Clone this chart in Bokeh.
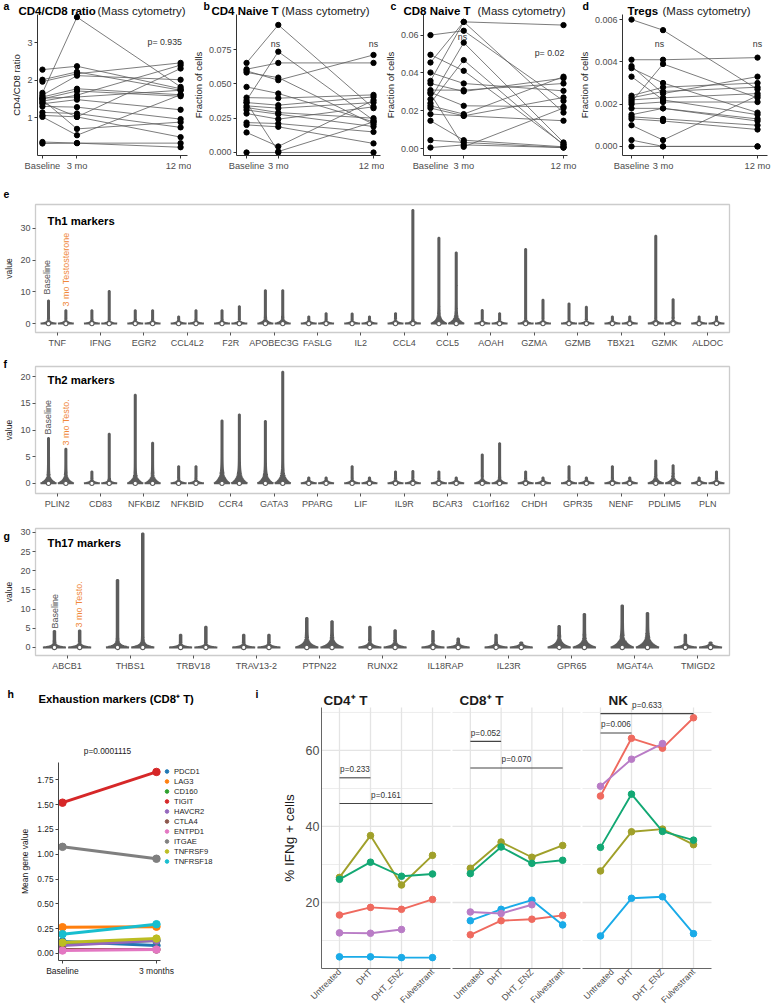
import numpy as np
from math import pi
from bokeh.plotting import figure
from bokeh.models import (Range1d, Label, FixedTicker, Legend, LegendItem,
                          PrintfTickFormatter, BoxAnnotation)
from bokeh.layouts import row, column
from bokeh.embed import file_html
from bokeh.resources import INLINE

# ---------------------------------------------------------------- data
MONTHS = [0, 3, 12]
MONTH_LABELS = ["Baseline", "3 mo", "12 mo"]

A_BASE = [1.66, 2.28, 2.01, 1.96, 1.60, 1.55, 1.50, 1.44, 1.52, 1.37, 1.30, 1.48, 1.14, 1.06, 1.02, 1.40, 0.35, 0.31]
A_3MO = [3.68, 2.37, 2.22, 2.17, 2.12, 1.77, 1.71, 1.60, 1.55, 1.48, 1.28, 0.70, 1.11, 1.02, 0.53, 1.02, 0.32, 0.32]
A_12MO = [1.82, 1.77, 1.73, 2.46, 2.01, 1.61, 1.57, 2.40, 1.73, 1.21, 0.96, 0.88, 0.74, 2.31, 1.61, 0.48, 0.32, 0.21]

B_BASE = [0.0653, 0.0607, 0.0595, 0.0583, 0.0478, 0.0400, 0.0381, 0.0364, 0.0340, 0.0328, 0.0310, 0.0284, 0.0218, 0.0201, 0.0146, 0.0364, 0.0000]
B_3MO = [0.0930, 0.0653, 0.0527, 0.0546, 0.0430, 0.0396, 0.0735, 0.0345, 0.0323, 0.0291, 0.0279, 0.0243, 0.0211, 0.0187, 0.0044, 0.0007, 0.0000]
B_12MO = [0.0323, 0.0653, 0.0711, 0.0206, 0.0223, 0.0420, 0.0235, 0.0405, 0.0364, 0.0250, 0.0189, 0.0333, 0.0150, 0.0066, 0.0381, 0.0223, 0.0000]

C_BASE = [0.0358, 0.0455, 0.0600, 0.0496, 0.0402, 0.0344, 0.0309, 0.0297, 0.0261, 0.0240, 0.0226, 0.0214, 0.0182, 0.0147, 0.0044, 0.0005, 0.0290]
C_3MO = [0.0670, 0.0670, 0.0623, 0.0411, 0.0344, 0.0302, 0.0309, 0.0226, 0.0560, 0.0468, 0.0182, 0.0173, 0.0173, 0.0044, 0.0032, 0.0019, 0.0009]
C_12MO = [0.0653, 0.0190, 0.0252, 0.0023, 0.0305, 0.0372, 0.0344, 0.0221, 0.0032, 0.0018, 0.0380, 0.0270, 0.0147, 0.0009, 0.0005, 0.0005, 0.0214]

D_BASE = [0.0060, 0.0041, 0.0038, 0.0037, 0.0033, 0.0024, 0.0023, 0.0022, 0.0021, 0.0020, 0.0018, 0.0015, 0.0014, 0.0013, 0.0010, 0.0003, 0.0000]
D_3MO = [0.0055, 0.0041, 0.0025, 0.0030, 0.0022, 0.0028, 0.0026, 0.0023, 0.0039, 0.0021, 0.0018, 0.0018, 0.0013, 0.0012, 0.0003, 0.0000, 0.0000]
D_12MO = [0.0027, 0.0042, 0.0033, 0.0016, 0.0015, 0.0030, 0.0028, 0.0025, 0.0023, 0.0021, 0.0013, 0.0012, 0.0010, 0.0008, 0.0024, 0.0000, 0.0000]

TH1_GENES = ["TNF", "IFNG", "EGR2", "CCL4L2", "F2R", "APOBEC3G", "FASLG", "IL2",
             "CCL4", "CCL5", "AOAH", "GZMA", "GZMB", "TBX21", "GZMK", "ALDOC"]
TH1_BASE_MAX = [7.3, 4.2, 4.2, 2.2, 4.2, 10.5, 2.2, 3.2, 3.3, 27.0, 4.3, 23.5, 6.3, 2.2, 27.7, 2.2]
TH1_TESTO_MAX = [4.2, 10.3, 4.2, 4.2, 5.5, 10.5, 3.3, 2.2, 35.8, 22.4, 3.3, 7.5, 5.3, 2.2, 7.7, 2.2]
TH1_SPREAD = [0.3, 0.25, 0.25, 0.25, 0.25, 0.5, 0.25, 0.25, 0.3, 1.0, 0.25, 0.3, 0.25, 0.25, 0.35, 0.25]

TH2_GENES = ["PLIN2", "CD83", "NFKBIZ", "NFKBID", "CCR4", "GATA3", "PPARG", "LIF",
             "IL9R", "BCAR3", "C1orf162", "CHDH", "GPR35", "NENF", "PDLIM5", "PLN"]
TH2_BASE_MAX = [8.5, 2.2, 16.6, 3.2, 11.8, 11.7, 1.1, 3.2, 2.2, 2.2, 5.4, 2.2, 3.2, 3.2, 4.3, 1.1]
TH2_TESTO_MAX = [6.5, 9.3, 7.6, 3.2, 12.9, 20.9, 1.1, 1.1, 2.3, 1.1, 7.5, 1.1, 1.1, 1.1, 3.4, 2.2]
TH2_SPREAD = [0.6, 0.2, 0.6, 0.2, 0.9, 0.8, 0.2, 0.2, 0.2, 0.2, 0.3, 0.2, 0.2, 0.2, 0.4, 0.2]

TH17_GENES = ["ABCB1", "THBS1", "TRBV18", "TRAV13-2", "PTPN22", "RUNX2", "IL18RAP",
              "IL23R", "GPR65", "MGAT4A", "TMIGD2"]
TH17_BASE_MAX = [4.3, 17.6, 3.3, 3.3, 7.7, 5.4, 4.3, 3.3, 5.6, 10.9, 3.3]
TH17_TESTO_MAX = [4.4, 29.7, 5.4, 3.3, 6.8, 4.5, 2.3, 1.3, 8.7, 9.0, 1.3]
TH17_SPREAD = [0.3, 0.5, 0.25, 0.25, 0.8, 0.4, 0.3, 0.3, 0.8, 1.1, 0.3]

H_TIMES = ["Baseline", "3 months"]
H_GENES = ["PDCD1", "LAG3", "CD160", "TIGIT", "HAVCR2", "CTLA4", "ENTPD1", "ITGAE", "TNFRSF9", "TNFRSF18"]
H_BASELINE = [0.12, 0.265, 0.10, 1.52, 0.08, 0.04, 0.03, 1.075, 0.11, 0.195]
H_3MONTHS = [0.08, 0.27, 0.13, 1.83, 0.13, 0.04, 0.04, 0.955, 0.15, 0.295]
H_COLORS = ["#1f77b4", "#ff7f0e", "#2ca02c", "#d62728", "#9467bd",
            "#8c564b", "#e377c2", "#7f7f7f", "#bcbd22", "#17becf"]

CONDITIONS = ["Untreated", "DHT", "DHT_ENZ", "Fulvestrant"]
NAN = float("nan")
CD4_RED = [16.7, 18.7, 18.2, 20.8]
CD4_OLIVE = [26.6, 37.6, 24.6, 32.4]
CD4_GREEN = [26.1, 30.6, 26.9, 27.5]
CD4_BLUE = [5.7, 5.7, 5.5, 5.5]
CD4_PURPLE = [12.0, 11.9, 12.9, NAN]
CD8_RED = [11.5, 15.2, 15.6, 16.6]
CD8_OLIVE = [29.0, 35.9, 31.9, 35.0]
CD8_GREEN = [27.6, 34.6, 30.3, 31.1]
CD8_BLUE = [15.2, 18.2, 20.6, 14.1]
CD8_PURPLE = [17.5, 17.1, 19.4, NAN]
NK_RED = [48.0, 63.2, 60.6, 68.6]
NK_OLIVE = [28.3, 38.6, 39.3, 35.2]
NK_GREEN = [34.5, 48.5, 38.7, 36.4]
NK_BLUE = [11.2, 21.1, 21.5, 11.8]
NK_PURPLE = [50.6, 57.7, 61.8, NAN]
CD4_BRACKET_Y = [52.8, 46.05]
CD8_BRACKET_Y = [62.4, 55.4]
NK_BRACKET_Y = [64.6, 69.7]
CD4_P = ["p=0.233", "p=0.161"]
CD8_P = ["p=0.052", "p=0.070"]
NK_P = ["p=0.006", "p=0.633"]
BRACKET_PAIRS = [(1, 2), (1, 4)]
I_MAJOR = [20, 40, 60]
I_MINOR = [10, 30, 50, 70]

# ---------------------------------------------------------------- helpers
FONT = "Liberation Sans"
GREY = "#5c5c5c"
C_RED, C_OLIVE, C_GREEN, C_BLUE, C_PURPLE = "#ef6a5f", "#a0a02a", "#13a874", "#1aabe8", "#b97cc6"


def fs(v):
    return f"{v}px"


def make_fig(box, frame, xr, yr, x_axis=True, y_axis=True):
    """box: canvas in page px; frame: where the data ranges xr/yr sit.
    The canvas is the whole plotting area; axes are pinned at the range edges."""
    x0, y0, x1, y1 = box
    fx0, fy0, fx1, fy1 = frame
    kx = (xr[1] - xr[0]) / (fx1 - fx0)
    ky = (yr[1] - yr[0]) / (fy1 - fy0)
    X0 = xr[0] + (x0 - fx0) * kx
    X1 = xr[0] + (x1 - fx0) * kx
    Y1 = yr[1] + (fy0 - y0) * ky
    Y0 = yr[0] - (y1 - fy1) * ky
    p = figure(width=x1 - x0, height=y1 - y0, min_border=0,
               min_border_left=0, min_border_right=0, min_border_top=0, min_border_bottom=0,
               x_range=Range1d(X0, X1), y_range=Range1d(Y0, Y1),
               x_axis_location="below" if x_axis else None,
               y_axis_location="left" if y_axis else None,
               output_backend="svg", toolbar_location=None, title=None)
    p.outline_line_color = None
    p.grid.visible = False
    p.background_fill_color = "white"
    p.border_fill_color = "white"
    if x_axis:
        p.xaxis.fixed_location = yr[0]
        p.xaxis.bounds = xr
    if y_axis:
        p.yaxis.fixed_location = xr[0]
        p.yaxis.bounds = yr

    def td(px, py):
        return (xr[0] + (px - fx0) * kx, yr[1] - (py - fy0) * ky)
    return p, td


def style_axis(ax, size, color="#4d4d4d", tick_len=3, line_color="#333333"):
    ax.major_label_text_font = FONT
    ax.major_label_text_font_size = fs(size)
    ax.major_label_text_color = color
    ax.axis_line_color = line_color
    ax.major_tick_line_color = line_color if tick_len else None
    ax.major_tick_out = tick_len
    ax.major_tick_in = 0
    ax.minor_tick_line_color = None
    ax.axis_label_text_font = FONT
    ax.axis_label_text_font_style = "normal"
    ax.axis_label_text_color = "#1a1a1a"
    ax.major_label_standoff = 2


def add_text(p, td, px, py, text, size, color="#1a1a1a", bold=False,
             align="left", baseline="middle", angle=0.0):
    x, y = td(px, py)
    p.add_layout(Label(x=x, y=y, text=text, text_font=FONT, text_font_size=fs(size),
                       text_color=color, text_font_style="bold" if bold else "normal",
                       text_align=align, text_baseline=baseline, angle=angle))


# ---------------------------------------------------------------- panels a-d
def top_panel(box, frame, xr, yr, base, m3, m12, yticks, yfmt, ylabel,
              letter, letter_x, tb, tb_x, tn_x, notes):
    p, td = make_fig(box, frame, xr, yr)
    n = len(base)
    p.multi_line([MONTHS] * n, [[b, m, t] for b, m, t in zip(base, m3, m12)],
                 line_color="#5a5a5a", line_width=0.8)
    p.scatter([MONTHS[0]] * n + [MONTHS[1]] * n + [MONTHS[2]] * n, base + m3 + m12,
              size=5.3, color="black")
    p.xaxis.ticker = FixedTicker(ticks=MONTHS)
    p.xaxis.major_label_overrides = dict(zip(MONTHS, MONTH_LABELS))
    p.yaxis.ticker = FixedTicker(ticks=yticks)
    p.yaxis.formatter = PrintfTickFormatter(format=yfmt)
    style_axis(p.xaxis[0], 9.3)
    style_axis(p.yaxis[0], 9.0)
    p.yaxis.axis_label = ylabel
    p.yaxis.axis_label_text_font_size = fs(9.5)
    p.yaxis.axis_label_standoff = 2
    add_text(p, td, letter_x, 5, letter, 10.5, color="black", bold=True)
    add_text(p, td, tb_x, 10, tb, 11.5, color="black", bold=True)
    add_text(p, td, tn_x, 10, "(Mass cytometry)", 11.5, color="#1a1a1a")
    for px, py, t, al in notes:
        add_text(p, td, px, py, t, 8.8, color="#333333", align=al)
    return p


pa = top_panel((0, 0, 191, 170), (37, 14, 187, 155), (-0.43, 12.6), (-0.01, 3.75),
               A_BASE, A_3MO, A_12MO, [1, 2, 3], "%d", "CD4/CD8 ratio",
               "a", 3, "CD4/CD8 ratio", 18, 97, [(147, 41, "p= 0.935", "left")])
pb = top_panel((191, 0, 384, 170), (236, 14, 380, 155), (-0.95, 12.66), (-0.0022, 0.1006),
               B_BASE, B_3MO, B_12MO, [0, 0.025, 0.05, 0.075], "%.3f", "Fraction of cells",
               "b", 203, "CD4 Naive T", 211, 281,
               [(275, 43, "ns", "center"), (373, 43, "ns", "center")])
pc = top_panel((384, 0, 578, 170), (423, 14, 567, 155), (-0.63, 12.36), (-0.0037, 0.0709),
               C_BASE, C_3MO, C_12MO, [0, 0.02, 0.04, 0.06], "%.2f", "Fraction of cells",
               "c", 390, "CD8 Naive T", 403, 477,
               [(462, 36, "ns", "center"), (549, 52, "p= 0.02", "center")])
pd_ = top_panel((578, 0, 772, 170), (622, 14, 767, 155), (-0.86, 12.95), (-0.00043, 0.00624),
                D_BASE, D_3MO, D_12MO, [0, 0.002, 0.004, 0.006], "%.3f", "Fraction of cells",
                "d", 582, "Tregs", 627, 662,
                [(659, 43, "ns", "center"), (757, 43, "ns", "center")])


# ---------------------------------------------------------------- panels e-g
def violin_panel(box, frame, yr, genes, bmax, tmax, spread, yticks, title, title_y,
                 letter, letter_y, base_lab, testo_lab, testo_text):
    n = len(genes)
    xr = (-0.5, n - 0.5)
    p, td = make_fig(box, frame, xr, yr)
    xs, ys, cx = [], [], []
    for i in range(n):
        for off, mx in ((-0.2, bmax[i]), (0.2, tmax[i])):
            yy = np.linspace(0, mx, 160)
            hw = 0.17 * np.exp(-yy / spread[i]) + 0.012
            xs.append(np.concatenate([i + off - hw, (i + off + hw)[::-1]]))
            ys.append(np.concatenate([yy, yy[::-1]]))
            cx.append(i + off)
    p.patches(xs, ys, fill_color=GREY, line_color=GREY, line_width=2.0)
    p.scatter(cx, [0] * len(cx), size=4.3, fill_color="white", line_color=GREY, line_width=1.1)
    p.add_layout(BoxAnnotation(left=xr[0], right=xr[1], bottom=yr[0], top=yr[1],
                               fill_color=None, fill_alpha=0, line_color="#555555",
                               line_width=1.3))
    ticks = list(range(n))
    p.xaxis.ticker = FixedTicker(ticks=ticks)
    p.xaxis.major_label_overrides = dict(zip(ticks, genes))
    p.yaxis.ticker = FixedTicker(ticks=yticks)
    style_axis(p.xaxis[0], 9.0, line_color="#555555")
    style_axis(p.yaxis[0], 9.0, line_color="#555555")
    p.xaxis.axis_line_color = None
    p.yaxis.axis_line_color = None
    p.yaxis.axis_label = "value"
    p.yaxis.axis_label_text_font_size = fs(8.5)
    p.yaxis.axis_label_standoff = 3
    add_text(p, td, 3, letter_y, letter, 10.5, color="black", bold=True)
    add_text(p, td, 47, title_y, title, 11.3, color="black", bold=True)
    add_text(p, td, base_lab[0], base_lab[1], "Baseline", 9.0, color="#555555", angle=pi / 2)
    add_text(p, td, testo_lab[0], testo_lab[1], testo_text, 9.0, color="#f0883a", angle=pi / 2)
    return p


pe = violin_panel((0, 170, 772, 355), (35, 204, 729, 332), (-2.8, 37.5),
                  TH1_GENES, TH1_BASE_MAX, TH1_TESTO_MAX, TH1_SPREAD, [0, 10, 20, 30],
                  "Th1 markers", 220, "e", 193, (46, 294), (65, 306), "3 mo Testosterone")
pf = violin_panel((0, 355, 772, 515), (35, 366, 729, 493), (-1.9, 21.9),
                  TH2_GENES, TH2_BASE_MAX, TH2_TESTO_MAX, TH2_SPREAD, [0, 5, 10, 15, 20],
                  "Th2 markers", 379, "f", 363, (47, 434), (65, 445), "3 mo Testo.")
pg = violin_panel((0, 515, 772, 680), (35, 528, 729, 655), (-2.1, 31.0),
                  TH17_GENES, TH17_BASE_MAX, TH17_TESTO_MAX, TH17_SPREAD, [0, 5, 10, 15, 20, 25, 30],
                  "Th17 markers", 542, "g", 535, (54, 628), (78, 627), "3 mo Testo.")

# ---------------------------------------------------------------- panel h
ph, tdh = make_fig((0, 680, 250, 1006), (58, 762, 160, 960), (-0.0426, 1.043), (-0.0706, 1.925))
items = []
for name, b, t, col in zip(H_GENES, H_BASELINE, H_3MONTHS, H_COLORS):
    ph.line([0, 1], [b, t], color=col, line_width=3)
    r = ph.scatter([0, 1], [b, t], color=col, size=7.5)
    items.append(LegendItem(label=name, renderers=[r]))
ph.xaxis.ticker = FixedTicker(ticks=[0, 1])
ph.xaxis.major_label_overrides = dict(zip([0, 1], H_TIMES))
ph.yaxis.ticker = FixedTicker(ticks=[0, 0.25, 0.5, 0.75, 1.0, 1.25, 1.5, 1.75])
ph.yaxis.formatter = PrintfTickFormatter(format="%.2f")
style_axis(ph.xaxis[0], 8.5, color="#222222", line_color="#444444")
style_axis(ph.yaxis[0], 8.3, color="#222222", line_color="#444444")
ph.yaxis.axis_label = "Mean gene value"
ph.yaxis.axis_label_text_font_size = fs(8.5)
ph.yaxis.axis_label_standoff = 4
leg = Legend(items=items, location=(162, 1006 - 866), orientation="vertical",
             label_text_font=FONT, label_text_font_size=fs(7.6), label_text_color="#222222",
             label_height=10, glyph_height=10, glyph_width=9, spacing=0, padding=0, margin=0,
             label_standoff=3, background_fill_alpha=0, border_line_color=None)
ph.add_layout(leg)
add_text(ph, tdh, 7, 693, "h", 10.5, color="black", bold=True)
add_text(ph, tdh, 38, 698, "Exhaustion markers (CD8\u207a T)", 11.3, color="black", bold=True)
add_text(ph, tdh, 107, 750, "p=0.0001115", 8.3, color="#222222", align="center")


# ---------------------------------------------------------------- panel i
def facet(box, frame, series, brackets_y, ptexts, title, title_x, first=False):
    xr, yr = (0.42, 4.58), (2.63, 71.3)
    p, td = make_fig(box, frame, xr, yr, y_axis=first)
    xs = [1, 2, 3, 4]
    p.segment([xr[0]] * len(I_MINOR), I_MINOR, [xr[1]] * len(I_MINOR), I_MINOR,
              color="#ededed", line_width=1.0)
    p.segment([xr[0]] * len(I_MAJOR), I_MAJOR, [xr[1]] * len(I_MAJOR), I_MAJOR,
              color="#e4e4e4", line_width=1.3)
    p.segment(xs, [yr[0]] * len(xs), xs, [yr[1]] * len(xs), color="#e4e4e4", line_width=1.3)
    for vals, col in series:
        p.line(xs, vals, color=col, line_width=1.9)
        p.scatter(xs, vals, color=col, size=6.6)
    for (a, b), yb, txt in zip(BRACKET_PAIRS, brackets_y, ptexts):
        p.segment(a, yb, b, yb, color="#444444", line_width=1.1)
        p.add_layout(Label(x=(a + b) / 2, y=yb + 1.0, text=txt, text_font=FONT,
                           text_font_size=fs(8.2), text_color="#333333",
                           text_align="center", text_baseline="bottom"))
    p.xaxis.ticker = FixedTicker(ticks=xs)
    p.xaxis.major_label_overrides = dict(zip(xs, CONDITIONS))
    p.xaxis.major_label_orientation = pi / 4
    style_axis(p.xaxis[0], 8.8, color="#4d4d4d", tick_len=0, line_color="#666666")
    if first:
        p.yaxis.ticker = FixedTicker(ticks=I_MAJOR)
        style_axis(p.yaxis[0], 12.5, color="#4d4d4d", tick_len=0, line_color="#666666")
        p.yaxis.axis_label = "% IFNg + cells"
        p.yaxis.axis_label_text_font_size = fs(13.5)
        p.yaxis.axis_label_standoff = 6
        add_text(p, td, 255, 693, "i", 10.5, color="black", bold=True)
    add_text(p, td, title_x, 700, title, 13.5, color="#1a1a1a", bold=True)
    return p


pi1 = facet((250, 680, 451, 1006), (321, 707, 450, 968),
            [(CD4_RED, C_RED), (CD4_OLIVE, C_OLIVE), (CD4_GREEN, C_GREEN),
             (CD4_BLUE, C_BLUE), (CD4_PURPLE, C_PURPLE)],
            CD4_BRACKET_Y, CD4_P, "CD4\u207a T", 323, first=True)
pi2 = facet((451, 680, 581, 1006), (452, 707, 580, 968),
            [(CD8_RED, C_RED), (CD8_OLIVE, C_OLIVE), (CD8_GREEN, C_GREEN),
             (CD8_BLUE, C_BLUE), (CD8_PURPLE, C_PURPLE)],
            CD8_BRACKET_Y, CD8_P, "CD8\u207a T", 459)
pi3 = facet((581, 680, 772, 1006), (582, 707, 711, 968),
            [(NK_RED, C_RED), (NK_OLIVE, C_OLIVE), (NK_GREEN, C_GREEN),
             (NK_BLUE, C_BLUE), (NK_PURPLE, C_PURPLE)],
            NK_BRACKET_Y, NK_P, "NK", 608)

layout = column(row(pa, pb, pc, pd_), pe, pf, pg, row(ph, pi1, pi2, pi3))
open("out.html", "w").write(file_html(layout, INLINE))
